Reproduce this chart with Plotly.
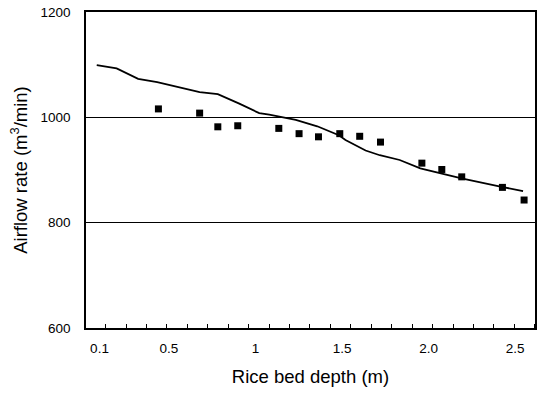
import plotly.graph_objects as go

# Model curve (rice bed depth m, airflow m3/min)
line_depth = [0.084, 0.199, 0.323, 0.433, 0.678, 0.783, 0.907, 1.022, 1.08, 1.233,
              1.357, 1.482, 1.52, 1.636, 1.718, 1.833, 1.952, 2.071, 2.19, 2.421, 2.545]
line_flow = [1099, 1093, 1073, 1067, 1048, 1044, 1026, 1008, 1005, 995,
             983, 966, 957, 937, 928, 919, 903, 894, 884, 868, 860]

# Measured points
pt_depth = [0.44, 0.678, 0.783, 0.898, 1.135, 1.252, 1.364, 1.487, 1.602, 1.722,
            1.961, 2.076, 2.191, 2.426, 2.551]
pt_flow = [1016, 1008, 982, 984, 979, 969, 963, 969, 964, 953,
           913, 901, 887, 867, 843]

x_tickvals = [0.1, 0.5, 1.0, 1.5, 2.0, 2.5]
x_ticktext = ["0.1", "0.5", "1", "1.5", "2.0", "2.5"]
y_tickvals = [600, 800, 1000, 1200]

fig = go.Figure()
fig.add_trace(go.Scatter(x=line_depth, y=line_flow, mode="lines",
                         line=dict(color="black", width=1.8), showlegend=False))
fig.add_trace(go.Scatter(x=pt_depth, y=pt_flow, mode="markers",
                         marker=dict(symbol="square", size=7, color="black"),
                         showlegend=False))

font = "Liberation Sans, Arial, sans-serif"
fig.update_layout(
    width=541, height=393,
    margin=dict(l=86, r=4, t=12, b=65),
    paper_bgcolor="white", plot_bgcolor="white",
    font=dict(family=font, color="black", size=13.5),
    xaxis=dict(range=[0.022, 2.614], tickmode="array", tickvals=x_tickvals,
               ticktext=x_ticktext, showgrid=False, zeroline=False,
               showline=True, linecolor="black", linewidth=1.6, mirror=True,
               ticks="", tickfont=dict(size=13.5), ticklabelstandoff=7,
               minor=dict(tick0=0.017, dtick=0.118, ticks="inside", ticklen=4,
                          tickcolor="black", tickwidth=1, showgrid=False),
               title=dict(text="Rice bed depth (m)", font=dict(size=18.5), standoff=15)),
    yaxis=dict(range=[600, 1200], tickmode="array", tickvals=y_tickvals,
               showgrid=True, gridcolor="black", gridwidth=1, zeroline=False,
               showline=True, linecolor="black", linewidth=1.6, mirror=True,
               ticks="", tickfont=dict(size=13.5), ticklabelstandoff=11,
               title=dict(text="Airflow rate (m<sup>3</sup>/min)", font=dict(size=18.5), standoff=8)),
)

fig.write_html("out.html", config={"displayModeBar": False},
               post_script="document.body.style.margin='0';")
